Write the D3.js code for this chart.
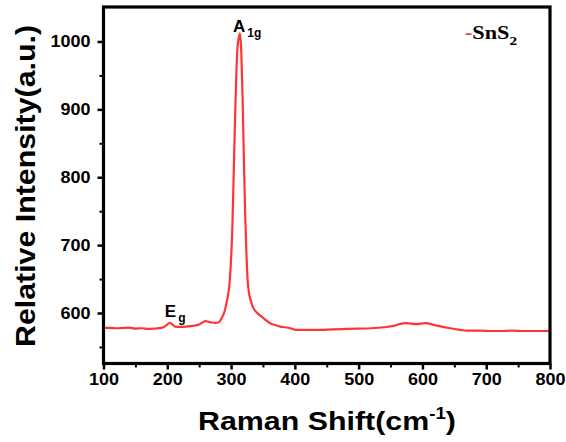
<!DOCTYPE html>
<html>
<head>
<meta charset="utf-8">
<script src="https://cdn.jsdelivr.net/npm/d3@7"></script>
<style>
  body { margin: 0; background: #fff; }
  .sans { font-family: "Liberation Sans", Arial, sans-serif; font-weight: bold; }
  .serif { font-family: "Liberation Serif", "Times New Roman", serif; font-weight: bold; }
</style>
</head>
<body>
<div id="chart"></div>
<script>
var svgWidth = 566;
var svgHeight = 442;

var margin = { top: 7, right: 16, bottom: 78.5, left: 103.5 };
var width = svgWidth - margin.left - margin.right;
var height = svgHeight - margin.top - margin.bottom;

// Raman spectrum
var shift = [100, 110, 120, 130, 140, 150, 160, 170, 180, 190, 195, 200, 204, 208, 212,
  220, 230, 240, 250, 255, 260, 265, 270, 275, 280, 285, 290, 294, 298, 302, 305, 308,
  310, 312, 314, 316, 318, 320, 322, 324, 326, 328, 331, 334, 338, 342, 346, 350, 355,
  361, 370, 377, 385, 395, 403, 420, 440, 460, 480, 500, 520, 540, 555, 565, 575, 590,
  605, 620, 632, 644, 657, 670, 690, 710, 723, 740, 760, 780, 796, 800];
var intensity = [578, 578, 577.5, 578, 578.5, 577, 577.5, 576.5, 577, 578, 579.5, 583, 586, 583, 580,
  579.5, 580, 581, 583, 586, 588, 587, 586, 585.5, 586, 592, 603, 620, 648, 725, 840, 945,
  990, 1005, 1012, 985, 920, 830, 750, 690, 648, 630, 618, 609, 603, 599, 596, 593, 589,
  585, 582, 580, 579, 577, 575, 575, 575, 576, 576.5, 577, 577.5, 579, 581, 584, 585, 583.5,
  585, 582, 579.5, 577.5, 575.5, 574, 574, 573.5, 573.5, 574, 573.5, 573.5, 573.5, 573.5];

var xTicks = [100, 200, 300, 400, 500, 600, 700, 800];
var xMinor = [150, 250, 350, 450, 550, 650, 750];
var yTicks = [600, 700, 800, 900, 1000];
var yMinor = [550, 650, 750, 850, 950];

var peakShift = [314, 204];
var peakHeight = [1012, 586];
var peakMain = ["A", "E"];
var peakSub = ["1g", "g"];

var svg = d3.select("#chart")
  .append("svg")
  .attr("width", svgWidth)
  .attr("height", svgHeight);

var chartGroup = svg.append("g")
  .attr("transform", `translate(${margin.left}, ${margin.top})`);

var xScale = d3.scaleLinear().domain([100, 800]).range([0, width]);
var yScale = d3.scaleLinear().domain([525.6, 1050.8]).range([height, 0]);

// minor ticks
chartGroup.append("g")
  .attr("transform", `translate(0, ${height})`)
  .call(d3.axisBottom(xScale).tickValues(xMinor).tickSize(4).tickFormat(""))
  .call(g => g.select(".domain").remove())
  .selectAll("line").attr("stroke-width", 2);

chartGroup.append("g")
  .call(d3.axisLeft(yScale).tickValues(yMinor).tickSize(4).tickFormat(""))
  .call(g => g.select(".domain").remove())
  .selectAll("line").attr("stroke-width", 2);

// major ticks
var xAxis = chartGroup.append("g")
  .attr("transform", `translate(0, ${height})`)
  .call(d3.axisBottom(xScale).tickValues(xTicks).tickSize(6).tickPadding(4).tickFormat(d3.format("d")))
  .call(g => g.select(".domain").remove());
xAxis.selectAll("line").attr("stroke-width", 2.5);
xAxis.selectAll("text")
  .attr("class", "sans")
  .attr("font-size", 16)
  .attr("fill", "#000")
  .attr("textLength", 30)
  .attr("lengthAdjust", "spacingAndGlyphs");

var yAxis = chartGroup.append("g")
  .call(d3.axisLeft(yScale).tickValues(yTicks).tickSize(6).tickPadding(7).tickFormat(d3.format("d")))
  .call(g => g.select(".domain").remove());
yAxis.selectAll("line").attr("stroke-width", 2.5);
yAxis.selectAll("text")
  .attr("class", "sans")
  .attr("font-size", 16)
  .attr("fill", "#000")
  .attr("textLength", d => d >= 1000 ? 40 : 30)
  .attr("lengthAdjust", "spacingAndGlyphs");

// spectrum
var line = d3.line()
  .x((d, i) => xScale(shift[i]))
  .y(d => yScale(d))
  .curve(d3.curveMonotoneX);

chartGroup.append("path")
  .datum(intensity)
  .attr("fill", "none")
  .attr("stroke", "#ff3535")
  .attr("stroke-width", 2.2)
  .attr("stroke-linejoin", "round")
  .attr("d", line);

// frame
chartGroup.append("rect")
  .attr("width", width)
  .attr("height", height)
  .attr("fill", "none")
  .attr("stroke", "#000")
  .attr("stroke-width", 3.2);

// peak labels
var labelDx = [-7, -5];
var labelDy = [-1, -6];
peakShift.forEach(function(s, i) {
  var t = chartGroup.append("text")
    .attr("class", "sans")
    .attr("x", xScale(s) + labelDx[i])
    .attr("y", yScale(peakHeight[i]) + labelDy[i])
    .attr("font-size", 17);
  t.append("tspan").text(peakMain[i]);
  t.append("tspan").attr("font-size", 12).attr("dx", 2).attr("dy", 5).text(peakSub[i]);
});

// legend
var legend = svg.append("text")
  .attr("class", "serif")
  .attr("x", 465)
  .attr("y", 39)
  .attr("font-size", 19)
  .attr("textLength", 52)
  .attr("lengthAdjust", "spacingAndGlyphs");
legend.append("tspan").attr("fill", "#ff3535").text("-");
legend.append("tspan").attr("fill", "#000").text("SnS");
legend.append("tspan").attr("fill", "#000").attr("font-size", 13).attr("dy", 6).text("2");

// axis titles
var xTitle = svg.append("text")
  .attr("class", "sans")
  .attr("x", 198)
  .attr("y", 430)
  .attr("font-size", 26)
  .attr("textLength", 258)
  .attr("lengthAdjust", "spacingAndGlyphs");
xTitle.append("tspan").text("Raman Shift(cm");
xTitle.append("tspan").attr("font-size", 16).attr("dy", -11).text("-1");
xTitle.append("tspan").attr("dy", 11).text(")");

svg.append("text")
  .attr("class", "sans")
  .attr("transform", "translate(35, 186) rotate(-90)")
  .attr("text-anchor", "middle")
  .attr("font-size", 28)
  .attr("textLength", 322)
  .attr("lengthAdjust", "spacingAndGlyphs")
  .text("Relative Intensity(a.u.)");
</script>
</body>
</html>
